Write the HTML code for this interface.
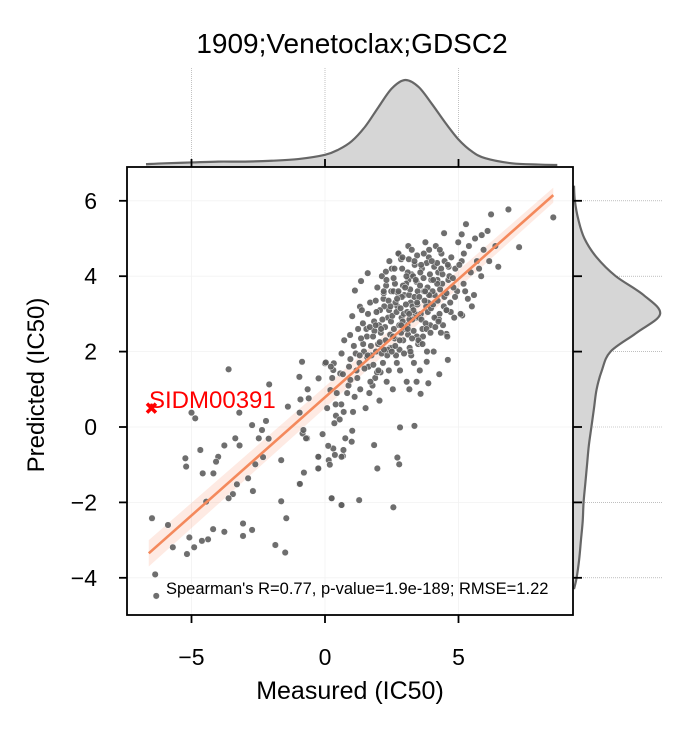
<!DOCTYPE html>
<html><head><meta charset="utf-8"><style>
html,body{margin:0;padding:0;background:#fff;}
svg{display:block;font-family:"Liberation Sans",Arial,sans-serif;}
</style></head><body>
<svg id="chart" width="692" height="738" viewBox="0 0 692 738">
<text x="352" y="53" text-anchor="middle" font-size="28">1909;Venetoclax;GDSC2</text>
<g id="topm"></g>
<g id="rightm"></g>
<g id="grid"></g>
<g id="band"></g>
<g id="pts"></g>
<g id="reg"></g>
<g id="axes"></g>
<text x="149" y="408" fill="#ff0000" font-size="24">SIDM00391</text>
<text x="166" y="594" font-size="16.5">Spearman's R=0.77, p-value=1.9e-189; RMSE=1.22</text>
<text x="350" y="699" text-anchor="middle" font-size="25">Measured (IC50)</text>
<text transform="translate(44,385) rotate(-90)" text-anchor="middle" font-size="24">Predicted (IC50)</text>
</svg>
<script>
const xTicks=[-5,0,5];
const yTicks=[-4,-2,0,2,4,6];
const outlierPoint=[-6.5,0.5];
const regStart=[-6.6,-3.35];
const regEnd=[8.55,6.15];
const measured=[-3.61,-2.09,-5.0,-4.86,-3.21,-2.73,-2.21,-2.36,-3.36,-3.77,-4.67,-3.2,-2.48,-2.11,-4.0,-4.08,-5.23,-5.2,-4.58,-4.18,-2.32,-2.61,-2.88,-3.3,-1.64,-2.7,-3.45,-3.61,-4.45,-1.64,-0.96,-0.26,-0.26,-6.48,-5.88,-1.45,-3.07,-2.73,-3.77,-4.19,-3.07,-5.08,-4.38,-4.61,-4.9,-5.7,-5.17,-1.86,-1.49,-6.36,-6.32,-1.39,-0.86,-0.96,-0.65,-0.92,-0.61,-0.95,-0.84,-0.67,0,0.33,0.57,-0.24,0.2,0.14,0.67,0.24,0.61,
8.55,6.87,6.22,5.28,7.27,6.49,4.46,5.87,5.12,3.12,2.75,2.28,1.6,1.35,1.12,1.31,1.02,0.94,0.62,0.03,0.31,5.14,4.55,4.6,4.28,3.87,3.81,3.43,3.35,2.81,3.58,3.16,1.84,1.96,2.71,2.78,0.25,0.62,1.28,2.56,-0.25,-0.79,-0.94,-0.25,0.31,0.69,0.37,0.62,1.0,-0.09,-0.81,-0.71,
0.12,0.35,0.08,0.44,0.27,0.18,0.41,0.22,0.55,0.83,0.67,0.95,0.72,0.61,0.88,0.76,1.05,1.32,1.18,1.46,1.24,1.38,1.11,1.29,1.43,1.02,1.21,1.52,1.78,1.63,1.91,1.57,1.84,1.69,1.96,1.74,1.55,1.88,1.66,1.99,1.61,2.04,2.31,2.17,2.45,2.09,2.36,2.22,2.48,2.13,2.41,2.27,2.02,2.39,2.19,2.33,2.47,2.06,2.54,2.81,2.66,2.93,2.58,2.87,2.71,2.97,2.62,2.89,2.75,2.51,2.78,2.95,2.64,2.85,2.69,2.56,2.91,3.06,3.33,3.17,3.44,3.09,3.38,3.21,3.47,3.12,3.36,3.25,3.02,3.41,3.28,3.15,3.49,3.31,3.04,3.23,3.55,3.82,3.67,3.94,3.59,3.86,3.71,3.98,3.63,3.89,3.76,3.52,3.79,3.96,3.65,3.84,3.57,4.07,4.34,4.18,4.45,4.11,4.39,4.24,4.48,4.15,4.29,4.03,4.42,4.21,4.36,4.58,4.84,4.69,4.95,4.62,4.88,4.73,4.99,4.55,4.81,4.66,5.08,5.35,5.19,5.46,5.12,5.39,5.25,5.03,5.58,5.85,5.69,5.94,5.62,5.77,6.15,6.38,6.09,
1.72,1.85,1.93,2.12,2.25,2.38,2.44,2.15,2.29,2.05,2.52,2.61,2.68,2.74,2.83,2.92,2.57,2.79,2.88,2.99,3.03,3.11,3.19,3.27,3.35,3.43,3.08,3.16,3.24,3.32,3.46,3.14,3.53,3.61,3.69,3.77,3.85,3.93,3.56,3.73,3.81,3.97,4.05,4.13,4.22,4.31,4.4,4.47,4.09,4.27,4.55,4.63,4.71,4.79,4.87,1.35,1.48,1.58,1.81,2.08,2.35,2.63,2.96,3.26,3.55,1.15,1.42,1.68,1.95,2.21,0.95,1.08,2.5,2.85,3.1,3.45,3.9,4.2,2.2,1.9,
2.4,2.7,3.0,3.3,3.6,3.9,4.2,2.55,2.85,3.15,3.45,3.75,4.05,4.35,2.3,2.6,2.9,3.2,3.5,3.8,4.1,1.8,2.1,2.45,2.75,3.05,3.35,3.65,3.95,4.25,4.55,1.6,1.9,2.2,2.5,2.8,3.1,3.4,3.7,4.0,4.3,4.6,5.2,5.5,0.9,1.3,1.7,2.0,0.4,0.7];
const predicted=[1.53,1.13,0.38,0.23,0.38,0.05,0.16,-0.08,-0.3,-0.49,-0.61,-0.49,-0.3,-0.31,-0.79,-0.92,-0.83,-1.05,-1.23,-1.23,-0.8,-0.99,-1.36,-1.52,-0.88,-1.7,-1.78,-1.89,-1.98,-1.97,-1.51,-1.1,-0.79,-2.42,-2.6,-2.42,-2.56,-2.73,-2.78,-2.71,-2.89,-2.93,-2.98,-3.02,-3.19,-3.19,-3.37,-3.13,-3.33,-3.91,-4.48,0.54,1.73,1.33,1.0,0.73,0.76,0.38,-0.17,-0.3,1.69,1.69,1.42,1.29,0.98,-0.88,-0.77,-1.89,-2.07,
5.56,5.77,5.64,5.38,4.77,4.25,5.14,5.09,5.11,4.8,4.61,4.12,4.08,3.87,3.62,3.19,2.94,2.44,1.95,1.71,1.51,2.96,2.47,1.78,1.4,1.16,1.73,1.2,0.03,-0.01,0.88,1.0,-0.48,-1.1,-0.81,-0.99,-1.89,-2.07,-1.94,-2.13,-1.1,-1.21,-1.51,-0.79,-0.57,-0.61,-0.74,-0.79,-0.39,-0.19,-0.08,-0.3,
-0.5,0.1,0.5,0.9,1.3,-1.0,0.3,1.6,0.2,0.9,1.4,1.8,2.3,0.6,1.1,-0.3,0.4,1.0,1.5,2.0,2.6,3.1,0.8,1.7,2.2,-0.1,1.3,0.5,1.1,1.6,2.0,2.4,2.8,3.3,3.7,1.9,2.6,1.3,0.9,2.2,3.0,0.7,1.2,1.7,2.1,2.5,2.9,3.2,3.6,4.0,4.4,2.3,2.7,1.5,3.4,1.9,2.8,3.1,1.0,1.5,1.9,2.3,2.6,2.9,3.2,3.5,3.8,4.2,4.6,2.1,2.7,3.0,3.3,2.5,1.7,3.6,2.8,1.2,1.7,2.1,2.4,2.7,3.0,3.3,3.6,3.9,4.3,4.7,2.6,2.9,3.2,3.5,2.2,3.1,3.8,1.9,1.5,2.0,2.4,2.7,3.0,3.3,3.6,3.9,4.2,4.5,4.9,2.9,3.2,3.5,2.6,3.7,4.1,2.0,2.5,2.9,3.2,3.5,3.8,4.1,4.4,4.8,3.0,3.6,2.7,3.9,4.6,2.4,2.9,3.3,3.6,3.9,4.2,4.5,4.9,3.1,3.7,4.0,3.0,3.4,3.8,4.1,4.4,4.8,3.6,4.3,3.5,4.0,4.4,4.7,5.0,4.2,4.4,4.8,5.2,
2.15,2.55,3.05,1.95,2.65,3.35,2.45,2.85,3.75,2.25,2.95,2.35,3.05,3.55,3.15,3.75,3.95,2.05,3.45,2.65,3.25,2.45,3.65,2.85,3.45,3.85,3.05,2.85,4.05,2.55,3.25,4.45,3.45,2.85,3.95,2.75,3.05,4.05,3.75,3.35,4.35,3.15,3.25,2.65,3.35,3.65,4.05,3.45,4.25,2.85,3.55,4.25,3.05,3.95,3.45,2.35,1.55,1.85,1.65,1.45,2.05,2.15,1.95,2.35,2.25,1.95,2.75,2.65,1.45,2.05,1.25,2.15,4.2,4.45,4.1,4.55,4.7,4.35,3.55,3.35,
3.1,3.4,3.7,4.0,4.3,3.5,3.8,2.4,2.7,3.0,3.3,3.6,3.9,4.2,3.9,4.2,4.5,2.0,2.3,2.6,2.9,2.4,2.6,3.2,3.6,4.0,4.4,2.2,2.5,2.8,3.1,1.9,2.7,3.6,2.0,2.3,2.6,3.9,4.6,4.4,4.7,4.3,4.6,3.2,1.6,1.9,1.2,1.5,0.6,0.4];
// marginal KDE densities (relative)
const kdeX=[-6.8,-6,-5,-4,-3,-2,-1,0,0.5,1,1.5,2,2.5,3,3.5,4,4.5,5,5.5,6,7,8,8.7];
const kdeXDens=[0.01,0.02,0.03,0.04,0.04,0.05,0.07,0.12,0.18,0.28,0.45,0.68,0.9,1.0,0.92,0.72,0.5,0.3,0.16,0.08,0.02,0.005,0.0];
const kdeY=[-4.3,-4,-3.5,-3,-2.5,-2,-1.5,-1,-0.5,0,0.5,1,1.5,2,2.5,3,3.5,4,4.5,5,5.5,6,6.4];
const kdeYDens=[0.0,0.03,0.06,0.08,0.1,0.11,0.13,0.15,0.17,0.2,0.23,0.26,0.32,0.42,0.72,0.99,0.8,0.48,0.26,0.12,0.05,0.01,0.0];

const NS="http://www.w3.org/2000/svg";
const L=127,R=573,T=167,B=615;
function sx(v){return 325+v*26.7;}
function sy(v){return 427-v*37.7;}
function mk(tag,attrs,parent){const e=document.createElementNS(NS,tag);for(const k in attrs)e.setAttribute(k,attrs[k]);parent.appendChild(e);return e;}
function smooth(p){let d='M'+p[0][0]+','+p[0][1];for(let i=0;i<p.length-1;i++){const a=p[Math.max(i-1,0)],b=p[i],c=p[i+1],e=p[Math.min(i+2,p.length-1)];
 const c1=[b[0]+(c[0]-a[0])/6,b[1]+(c[1]-a[1])/6],c2=[c[0]-(e[0]-b[0])/6,c[1]-(e[1]-b[1])/6];
 d+=' C'+c1[0]+','+c1[1]+' '+c2[0]+','+c2[1]+' '+c[0]+','+c[1];}return d;}
const grid=document.getElementById('grid');
xTicks.forEach(t=>{const l=mk('line',{x1:sx(t),x2:sx(t),y1:T,y2:B,stroke:'#f2f2f2','stroke-width':0.8},grid);

});
yTicks.forEach(t=>{const l=mk('line',{x1:L,x2:R,y1:sy(t),y2:sy(t),stroke:'#f2f2f2','stroke-width':0.8},grid);

});
const band=document.getElementById('band');
const x0=regStart[0],x1=regEnd[0];
const bp=[[x0,regStart[1]+0.35],[x1,regEnd[1]+0.2],[x1,regEnd[1]-0.2],[x0,regStart[1]-0.35]];
const bandEl=mk('polygon',{points:bp.map(p=>sx(p[0])+','+sy(p[1])).join(' '),fill:'#fc8d62','fill-opacity':0.18},band);


const pts=document.getElementById('pts');
for(let i=0;i<measured.length;i++){
 const c=mk('circle',{cx:sx(measured[i]),cy:sy(predicted[i]),r:3.3,fill:'#5e5e5e','fill-opacity':0.9,stroke:'#fff','stroke-width':0.5},pts);
 
 
}
const ox=sx(outlierPoint[0]),oy=sy(outlierPoint[1]);
const om=mk('path',{d:`M${ox-4.5},${oy-4.5}L${ox+4.5},${oy+4.5}M${ox+4.5},${oy-4.5}L${ox-4.5},${oy+4.5}`,stroke:'#ff0000','stroke-width':3.5},pts);


const rl=mk('line',{x1:sx(regStart[0]),y1:sy(regStart[1]),x2:sx(regEnd[0]),y2:sy(regEnd[1]),stroke:'#f4895c','stroke-width':2.6},document.getElementById('reg'));


const ax=document.getElementById('axes');
const fr=mk('rect',{x:L,y:T,width:R-L,height:B-T,fill:'none',stroke:'#000','stroke-width':1.8},ax);


xTicks.forEach(t=>{
 const x=sx(t);
 mk('line',{x1:x,x2:x,y1:B,y2:B+8,stroke:'#000','stroke-width':1.8},ax);
 mk('line',{x1:x,x2:x,y1:T-8,y2:T,stroke:'#000','stroke-width':1.8},ax);
 const tx=mk('text',{x:x,y:665,'text-anchor':'middle','font-size':23},ax);
 tx.textContent=(t<0?'\u2212'+(-t):t);
 
 
});
yTicks.forEach(t=>{
 const y=sy(t);
 mk('line',{x1:L-8,x2:L,y1:y,y2:y,stroke:'#000','stroke-width':1.8},ax);
 mk('line',{x1:R,x2:R+9,y1:y,y2:y,stroke:'#000','stroke-width':1.8},ax);
 const tx=mk('text',{x:97,y:y+8,'text-anchor':'end','font-size':23},ax);
 tx.textContent=(t<0?'\u2212'+(-t):t);
 
 
});
const tm=document.getElementById('topm');
xTicks.forEach(t=>{mk('line',{x1:sx(t),x2:sx(t),y1:68,y2:T,stroke:'#999','stroke-width':0.6,'stroke-dasharray':'1,1'},tm);});
const tp=kdeX.map((v,i)=>[Math.max(sx(v),146),T-2-kdeXDens[i]*85]);
const tcurve=smooth(tp);
const tpath=mk('path',{d:tcurve+' L'+tp[tp.length-1][0]+','+T+' L'+tp[0][0]+','+T+'Z',fill:'#d6d6d6',stroke:'none'},tm);


const tl=mk('path',{d:tcurve,fill:'none',stroke:'#666','stroke-width':2.2},tm);


const rm=document.getElementById('rightm');
yTicks.forEach(t=>{mk('line',{x1:R,x2:662,y1:sy(t),y2:sy(t),stroke:'#999','stroke-width':0.6,'stroke-dasharray':'1,1'},rm);});
const rp=kdeY.map((v,i)=>[R+1+kdeYDens[i]*87,sy(v)]);
const rcurve=smooth(rp);
const rpath=mk('path',{d:rcurve+' L'+R+','+rp[rp.length-1][1]+' L'+R+','+rp[0][1]+'Z',fill:'#d6d6d6',stroke:'none'},rm);


const rline=mk('path',{d:rcurve,fill:'none',stroke:'#666','stroke-width':2.2},rm);


</script>
</body></html>
